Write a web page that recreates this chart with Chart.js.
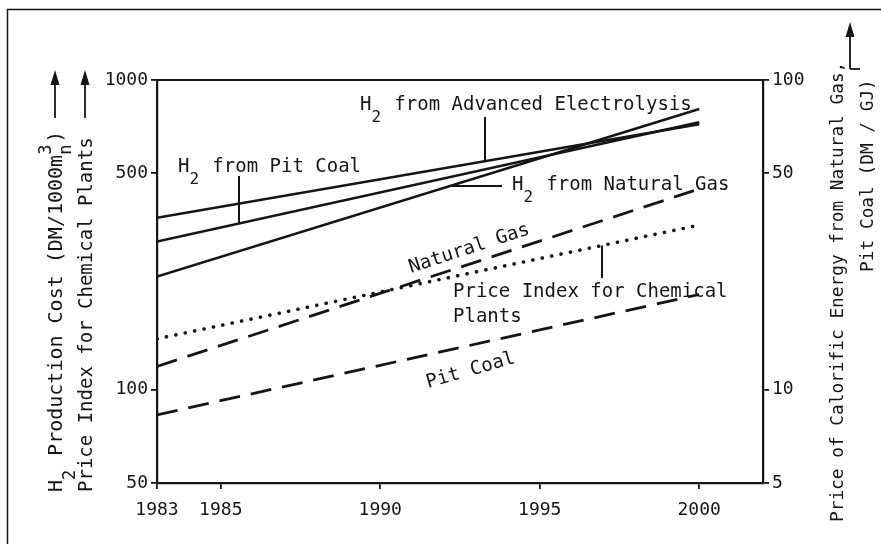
<!DOCTYPE html>
<html>
<head>
<meta charset="utf-8">
<script src="https://cdn.jsdelivr.net/npm/chart.js@4.4.0/dist/chart.umd.min.js"></script>
<style>
  html, body { margin: 0; padding: 0; background: #fff; }
  #wrap { width: 881px; height: 544px; }
</style>
</head>
<body>
<div id="wrap"><canvas id="chart" width="881" height="544"></canvas></div>
<script>
// values (lines are straight on the log scale, so the end points are enough)
const years = [1983, 2000];
const h2Electrolysis = [359, 720];   // DM/1000 m3n
const h2PitCoal = [301, 730];
const h2NaturalGas = [232, 806];
const priceIndexChem = [146, 340];
const naturalGasPrice = [11.9, 44.5]; // DM/GJ, right axis
const pitCoalPrice = [8.3, 20.3];

const xTicks = [1983, 1985, 1990, 1995, 2000];
const leftTicks = [50, 100, 500, 1000];
const rightTicks = [5, 10, 50, 100];

const FONT = "'DejaVu Sans Mono', 'Liberation Mono', monospace";
const INK = '#151515';

function pts(vals) {
    return years.map((x, i) => ({ x: x, y: vals[i] }));
}

// pixel y of a (log-straight) series at a given pixel x
function lineY(chart, vals, axisId, px) {
    const year = chart.scales.x.getValueForPixel(px);
    const t = (year - years[0]) / (years[1] - years[0]);
    const lv = Math.log10(vals[0]) + t * (Math.log10(vals[1]) - Math.log10(vals[0]));
    return chart.scales[axisId].getPixelForValue(Math.pow(10, lv));
}

// monospace text with sub / superscripts, drawn from x along the baseline y
function drawRuns(ctx, parts, x, y, size) {
    ctx.font = size + 'px ' + FONT;
    const adv = ctx.measureText('M').width;
    const small = Math.round(size * 0.84) + 'px ' + FONT;
    let cx = x;
    parts.forEach(([txt, kind]) => {
        if (kind === 'sub') {
            ctx.font = small;
            ctx.fillText(txt, cx, y + size * 0.64);
        } else if (kind === 'supsub') {
            ctx.font = small;
            ctx.fillText(txt[0], cx, y - size * 0.55);
            ctx.fillText(txt[1], cx, y + size * 0.45);
            txt = txt[0];
        } else {
            ctx.font = size + 'px ' + FONT;
            ctx.fillText(txt, cx, y);
        }
        cx += adv * txt.length;
    });
}

function arrowUp(ctx, x, yTip, yEnd) {
    ctx.beginPath();
    ctx.moveTo(x, yTip + 10);
    ctx.lineTo(x, yEnd);
    ctx.stroke();
    ctx.beginPath();
    ctx.moveTo(x, yTip);
    ctx.lineTo(x - 4.5, yTip + 15);
    ctx.lineTo(x + 4.5, yTip + 15);
    ctx.closePath();
    ctx.fill();
}

const annotations = {
    id: 'annotations',
    afterDraw(chart) {
        const ctx = chart.ctx;
        const a = chart.chartArea;
        const sx = chart.scales.x;
        const sy2 = chart.scales.y2;
        ctx.save();
        ctx.fillStyle = INK;
        ctx.strokeStyle = INK;
        ctx.textAlign = 'left';
        ctx.textBaseline = 'alphabetic';

        // outer frame (scan shows only top and left edge)
        ctx.lineWidth = 1.5;
        ctx.beginPath();
        ctx.moveTo(7.5, 544);
        ctx.lineTo(7.5, 9.5);
        ctx.lineTo(881, 9.5);
        ctx.stroke();

        // top edge of the plot box
        ctx.lineWidth = 2.2;
        ctx.beginPath();
        ctx.moveTo(a.left, a.top);
        ctx.lineTo(a.right, a.top);
        ctx.stroke();

        // curve labels
        drawRuns(ctx, [['H', ''], ['2', 'sub'], [' from Pit Coal', '']], 178, 172, 19);
        drawRuns(ctx, [['H', ''], ['2', 'sub'], [' from Advanced Electrolysis', '']], 360, 110, 19);
        drawRuns(ctx, [['H', ''], ['2', 'sub'], [' from Natural Gas', '']], 512, 190, 19);
        drawRuns(ctx, [['Price Index for Chemical', '']], 453, 297, 19);
        drawRuns(ctx, [['Plants', '']], 453, 322, 19);

        // leader lines
        ctx.lineWidth = 2;
        ctx.beginPath();
        ctx.moveTo(239, 176);
        ctx.lineTo(239, lineY(chart, h2PitCoal, 'y', 239));
        ctx.moveTo(485, 117);
        ctx.lineTo(485, lineY(chart, h2Electrolysis, 'y', 485));
        const ngY = lineY(chart, h2NaturalGas, 'y', 450);
        ctx.moveTo(450, ngY);
        ctx.lineTo(502, ngY);
        ctx.moveTo(602, lineY(chart, priceIndexChem, 'y', 602));
        ctx.lineTo(602, 278);
        ctx.stroke();

        // slanted labels along the dashed price lines
        const x0 = sx.getPixelForValue(years[0]);
        const x1 = sx.getPixelForValue(years[1]);
        const angNG = Math.atan2(sy2.getPixelForValue(naturalGasPrice[1]) - sy2.getPixelForValue(naturalGasPrice[0]), x1 - x0);
        ctx.save();
        ctx.translate(411, 273);
        ctx.rotate(angNG);
        drawRuns(ctx, [['Natural Gas', '']], 0, 0, 19);
        ctx.restore();

        ctx.save();
        ctx.translate(428, 388);
        ctx.rotate(-16 * Math.PI / 180);
        drawRuns(ctx, [['Pit Coal', '']], 0, 0, 19);
        ctx.restore();

        // left axis titles (read bottom to top)
        ctx.save();
        ctx.translate(62, 492);
        ctx.rotate(-Math.PI / 2);
        drawRuns(ctx, [['H', ''], ['2', 'sub'], [' Production Cost (DM/1000m', ''], ['3n', 'supsub'], [')', '']], 0, 0, 20);
        ctx.restore();

        ctx.save();
        ctx.translate(92, 492);
        ctx.rotate(-Math.PI / 2);
        drawRuns(ctx, [['Price Index for Chemical Plants', '']], 0, 0, 19);
        ctx.restore();

        ctx.lineWidth = 1.8;
        arrowUp(ctx, 55, 70, 118);
        arrowUp(ctx, 85, 70, 118);

        // right axis title
        ctx.save();
        ctx.translate(843, 522);
        ctx.rotate(-Math.PI / 2);
        drawRuns(ctx, [['Price of Calorific Energy from Natural Gas,', '']], 0, 0, 17.8);
        ctx.restore();

        ctx.save();
        ctx.translate(873, 79 + 18 * 17.8 * 0.602);
        ctx.rotate(-Math.PI / 2);
        drawRuns(ctx, [['Pit Coal (DM / GJ)', '']], 0, 0, 17.8);
        ctx.restore();

        arrowUp(ctx, 850, 22, 69);
        ctx.beginPath();
        ctx.moveTo(850, 69);
        ctx.lineTo(860, 69);
        ctx.stroke();

        ctx.restore();
    }
};

const axisGrid = { drawOnChartArea: false, drawTicks: true, tickLength: 6, color: INK, lineWidth: 1.8 };
const axisBorder = { display: true, color: INK, width: 2.2 };
const tickFont = { family: FONT, size: 18 };

new Chart(document.getElementById('chart'), {
    type: 'line',
    data: {
        datasets: [
            { label: 'H2 from Advanced Electrolysis', data: pts(h2Electrolysis), yAxisID: 'y', borderColor: INK, borderWidth: 2.6 },
            { label: 'H2 from Pit Coal', data: pts(h2PitCoal), yAxisID: 'y', borderColor: INK, borderWidth: 2.6 },
            { label: 'H2 from Natural Gas', data: pts(h2NaturalGas), yAxisID: 'y', borderColor: INK, borderWidth: 2.6 },
            { label: 'Price Index for Chemical Plants', data: pts(priceIndexChem), yAxisID: 'y', borderColor: INK, borderWidth: 3.6, borderDash: [0.1, 9.5], borderCapStyle: 'round' },
            { label: 'Natural Gas', data: pts(naturalGasPrice), yAxisID: 'y2', borderColor: INK, borderWidth: 2.8, borderDash: [21, 11] },
            { label: 'Pit Coal', data: pts(pitCoalPrice), yAxisID: 'y2', borderColor: INK, borderWidth: 2.8, borderDash: [21, 11] }
        ]
    },
    options: {
        responsive: false,
        animation: false,
        layout: { padding: { top: 80, left: 0, right: 0, bottom: 0 } },
        elements: { point: { radius: 0 }, line: { tension: 0, fill: false } },
        plugins: { legend: { display: false }, tooltip: { enabled: false } },
        scales: {
            x: {
                type: 'linear', min: 1983, max: 2002,
                afterBuildTicks: s => { s.ticks = xTicks.map(v => ({ value: v })); },
                afterFit: s => { s.height = 61; },
                grid: axisGrid, border: axisBorder,
                ticks: { font: tickFont, color: INK, padding: 11, maxRotation: 0, callback: v => String(v) }
            },
            y: {
                type: 'logarithmic', position: 'left', min: 50, max: 1000,
                afterBuildTicks: s => { s.ticks = leftTicks.map(v => ({ value: v })); },
                afterFit: s => { s.width = 157; },
                grid: axisGrid, border: axisBorder,
                ticks: { font: tickFont, color: INK, padding: 3, callback: v => String(v) }
            },
            y2: {
                type: 'logarithmic', position: 'right', min: 5, max: 100,
                afterBuildTicks: s => { s.ticks = rightTicks.map(v => ({ value: v })); },
                afterFit: s => { s.width = 118; },
                grid: axisGrid, border: axisBorder,
                ticks: { font: tickFont, color: INK, padding: 3, callback: v => String(v) }
            }
        }
    },
    plugins: [annotations]
});
</script>
</body>
</html>
